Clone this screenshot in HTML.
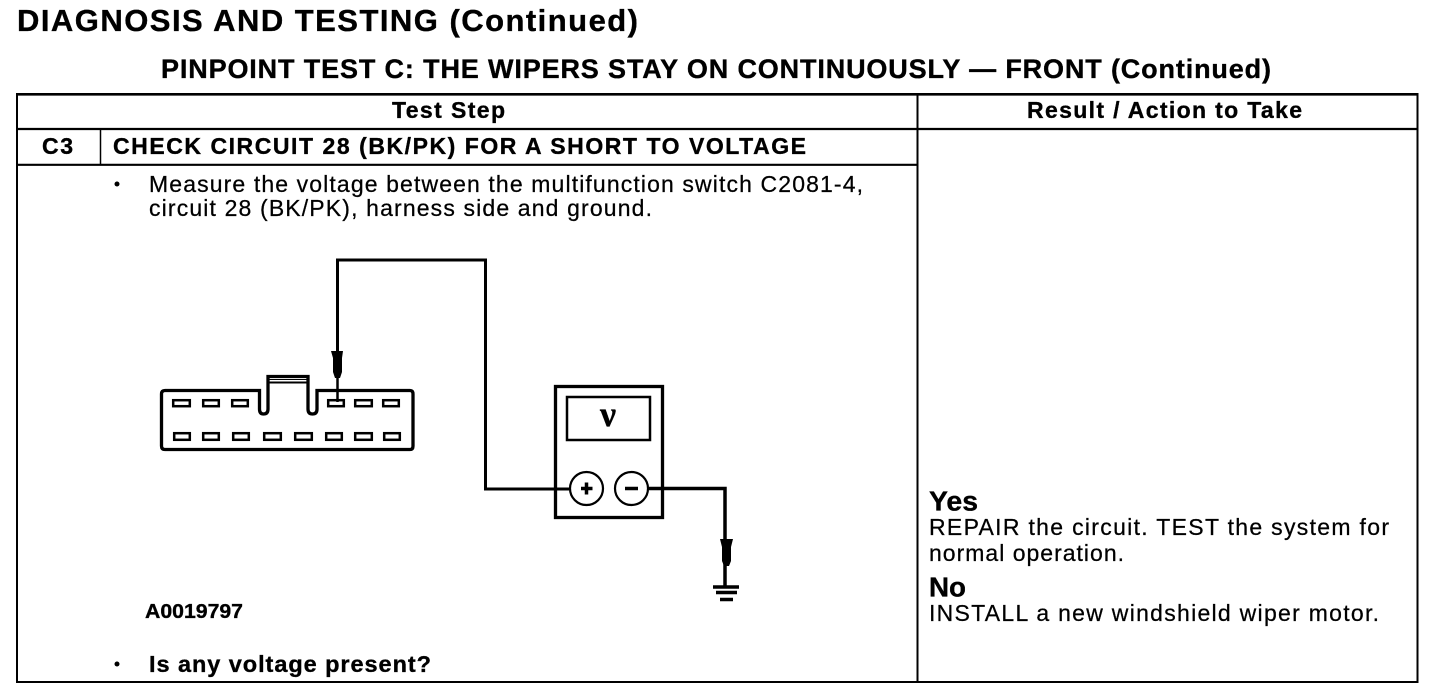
<!DOCTYPE html>
<html><head><meta charset="utf-8"><style>
html,body{margin:0;padding:0;background:#fff}
svg{display:block}
text{font-family:"Liberation Sans",sans-serif;fill:#000;stroke:#000;stroke-width:.25px}
.b{font-weight:bold;stroke-width:.35px}
</style></head><body>
<svg width="1456" height="700" viewBox="0 0 1456 700" xmlns="http://www.w3.org/2000/svg">
<text class="b" x="17" y="31" font-size="31" textLength="621" lengthAdjust="spacing">DIAGNOSIS AND TESTING (Continued)</text>
<text class="b" x="161" y="78" font-size="27" textLength="1110" lengthAdjust="spacing">PINPOINT TEST  C: THE WIPERS STAY ON CONTINUOUSLY — FRONT (Continued)</text>
<g stroke="#000" fill="none">
<path d="M17 93.500V682M1417.500 93.500V682M16 682H1418.500" stroke-width="2"/>
<path d="M16 94.300H1418.500" stroke-width="2.600"/>
<path d="M17 129H1418.500M17 164.800H918" stroke-width="2.200"/>
<path d="M917.500 94V683" stroke-width="2"/>
<path d="M100.500 129V165" stroke-width="1.500"/>
</g>
<text class="b" x="392" y="118" font-size="23" textLength="113" lengthAdjust="spacing">Test Step</text>
<text class="b" x="1027" y="118" font-size="23" textLength="275" lengthAdjust="spacing">Result / Action to Take</text>
<text class="b" x="42" y="154" font-size="23" textLength="31" lengthAdjust="spacing">C3</text>
<text class="b" x="113" y="154" font-size="23" textLength="693" lengthAdjust="spacing">CHECK CIRCUIT 28 (BK/PK) FOR A SHORT TO VOLTAGE</text>
<circle cx="117" cy="184" r="2.500"/>
<text x="149" y="192" font-size="23" textLength="714" lengthAdjust="spacing">Measure the voltage between the multifunction switch C2081-4,</text>
<text x="149" y="216" font-size="23" textLength="503" lengthAdjust="spacing">circuit 28 (BK/PK), harness side and ground.</text>
<text class="b" x="145" y="618" font-size="20.500" textLength="98" lengthAdjust="spacingAndGlyphs">A0019797</text>
<circle cx="117" cy="664" r="2.500"/>
<text class="b" x="149" y="672" font-size="23.500" textLength="282" lengthAdjust="spacing">Is any voltage present?</text>
<text class="b" x="929" y="510.500" font-size="27.500" textLength="49" lengthAdjust="spacingAndGlyphs">Yes</text>
<text x="929" y="535" font-size="23" textLength="460" lengthAdjust="spacing">REPAIR the circuit. TEST the system for</text>
<text x="929" y="561" font-size="23" textLength="195" lengthAdjust="spacing">normal operation.</text>
<text class="b" x="929" y="596.500" font-size="27.500" textLength="37" lengthAdjust="spacingAndGlyphs">No</text>
<text x="929" y="621" font-size="23" textLength="450" lengthAdjust="spacing">INSTALL a new windshield wiper motor.</text>

<g fill="none" stroke="#000" stroke-width="3.300">
<path d="M259.500 390.500H165Q161.500 390.500 161.500 394V446Q161.500 449.500 165 449.500H410Q413 449.500 413 446V394Q413 390.500 410 390.500H317V409Q317 414 312.500 414Q308 414 308 409V376.500H268V409Q268 414 263.500 414Q259.500 414 259.500 409Z"/>
<path d="M268 379.500H308" stroke-width="1"/>
<path d="M268 382.500H308" stroke-width="2"/>
<g stroke-width="2.500">
<rect x="173.200" y="400.200" width="16.600" height="6"/><rect x="203.200" y="400.200" width="15.600" height="6"/><rect x="232.200" y="400.200" width="15.600" height="6"/>
<rect x="328.200" y="400.200" width="15.600" height="6"/><rect x="355.200" y="400.200" width="16.600" height="6"/><rect x="383.200" y="400.200" width="15.600" height="6"/>
<rect x="174.200" y="433.200" width="15.600" height="6.600"/><rect x="203.200" y="433.200" width="15.600" height="6.600"/><rect x="233.200" y="433.200" width="15.600" height="6.600"/><rect x="264.200" y="433.200" width="16.600" height="6.600"/><rect x="295.200" y="433.200" width="16.600" height="6.600"/><rect x="326.200" y="433.200" width="15.600" height="6.600"/><rect x="355.200" y="433.200" width="16.600" height="6.600"/><rect x="384.200" y="433.200" width="15.600" height="6.600"/>
</g>
<path d="M337.500 352V260H485.500V489H569" stroke-width="3"/>
<path d="M337.500 375V402" stroke-width="2.500"/>
<rect x="555.500" y="386.500" width="107" height="131"/>
<rect x="567" y="397" width="83" height="43" stroke-width="2.500"/>
<circle cx="586.500" cy="488.500" r="16.500" stroke-width="2.200"/>
<circle cx="631.500" cy="488.500" r="16.500" stroke-width="2.200"/>
<path d="M649 488.500H725V586" stroke-width="3.500"/>
<path d="M581 488.500H592.500M586.500 482.500V494.500M625 488.500H638" stroke-width="3.500"/>
<path d="M713 587H739M716 592.500H737M720 599.500H733" stroke-width="3.500"/>
</g>
<path d="M331 351H343L342 358V372L340 378H335L333 372V358Z"/>
<path d="M720 539H733L731 547V561L729 566H724L722 561V547Z"/>
<text x="608" y="426" font-size="36" text-anchor="middle" style="font-family:'Liberation Serif',serif;font-weight:bold">ν</text>
</svg>
</body></html>
